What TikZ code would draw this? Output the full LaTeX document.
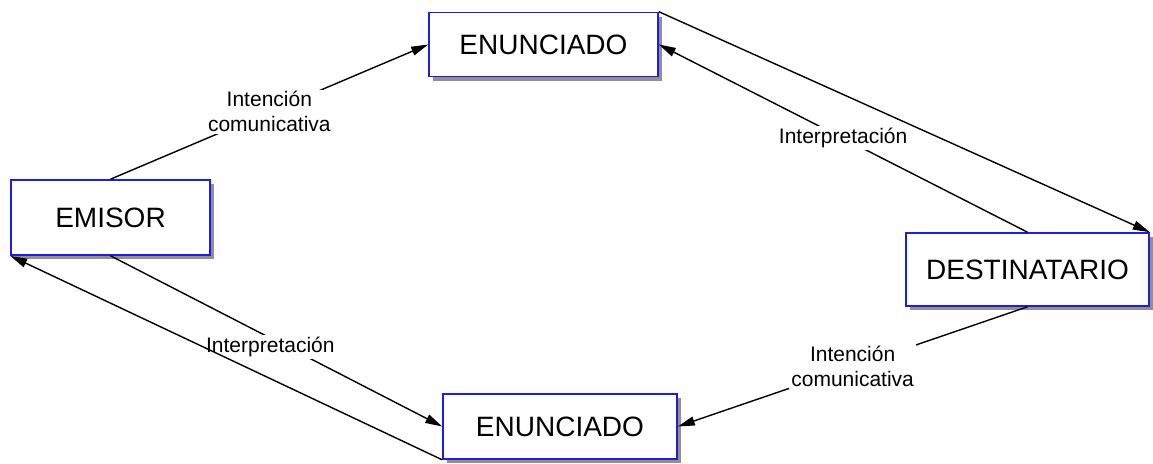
\documentclass[tikz,border=0pt]{standalone}
\usepackage{fontspec}
\setmainfont{Liberation Sans}
\usetikzlibrary{arrows.meta,shadows}
\definecolor{boxblue}{RGB}{30,30,225}
\definecolor{shadowgray}{RGB}{150,142,142}

\begin{document}
\begin{tikzpicture}[
    x=0.5pt, y=-0.5pt,
    box/.style={draw=boxblue, line width=0.8pt, fill=white, inner sep=0pt,
                font=\fontsize{14}{16}\selectfont,
                drop shadow={shadow xshift=2.2pt, shadow yshift=-2.2pt,
                             fill=shadowgray, opacity=1}},
    arr/.style={-{Triangle[length=8.5pt, width=4.5pt]}, line width=0.7pt},
    lbl/.style={fill=white, inner sep=1pt, align=center,
                font=\fontsize{10.5}{12.5}\selectfont}
  ]
  \useasboundingbox (0,0) rectangle (1153,464);
  % Four boxes
  \node[box, minimum width=99.5pt, minimum height=37.5pt] (em) at (110.5,217.5) {EMISOR};
  \node[box, minimum width=114.5pt, minimum height=32pt] (en1) at (543.5,44.5) {ENUNCIADO};
  \node[box, minimum width=121.5pt, minimum height=36.5pt] (dest) at (1027.5,269.5) {DESTINATARIO};
  \node[box, minimum width=117pt, minimum height=32.5pt] (en2) at (560,426.5) {ENUNCIADO};
  % Emisor -> enunciado -> destinatario
  \draw[arr] (em.north) -- (en1.west)
    node[midway, lbl] {Intención\\comunicativa};
  \draw[arr] (en1.north east) -- (dest.north east);
  \draw[arr] (dest.north) -- (en1.east)
    node[midway, lbl] {Interpretación};
  % Destinatario -> enunciado -> emisor
  \draw[arr] (dest.south) -- (en2.east)
    node[midway, lbl] {Intención\\comunicativa};
  \draw[arr] (em.south) -- (en2.west)
    node[midway, lbl, xshift=-3pt, yshift=-3pt] {Interpretación};
  \draw[arr] (en2.south west) -- (em.south west);
\end{tikzpicture}
\end{document}
